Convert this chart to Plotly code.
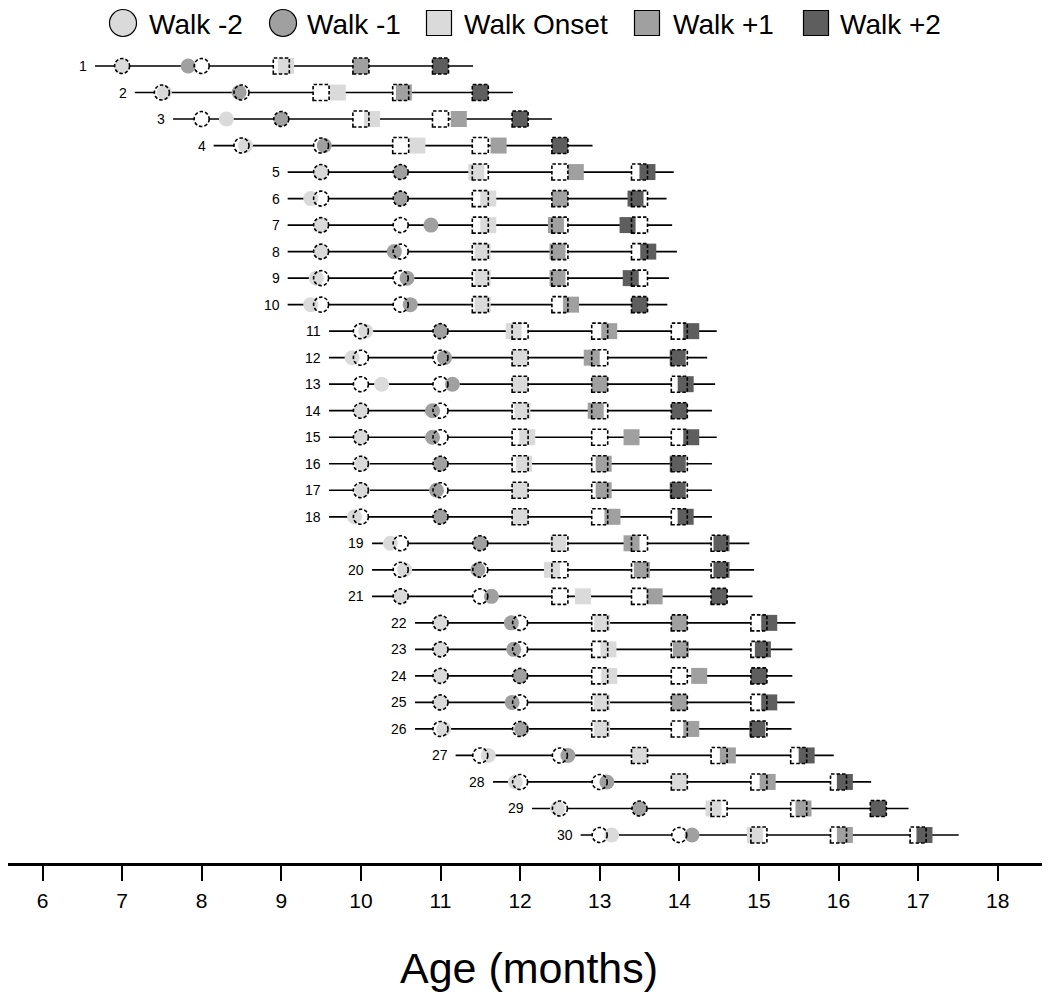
import plotly.graph_objects as go

# ---------------- data ----------------
infants = list(range(1, 31))

# target (scheduled) walk-onset age for each infant, months
target_onset = [9.0, 9.5, 10.0, 10.5,
                11.5, 11.5, 11.5, 11.5, 11.5, 11.5,
                12.0, 12.0, 12.0, 12.0, 12.0, 12.0, 12.0, 12.0,
                12.5, 12.5, 12.5,
                13.0, 13.0, 13.0, 13.0, 13.0,
                13.5, 14.0, 14.5, 15.0]

# actual session ages (months)
walk_m2 = [7.00, 7.53, 8.31, 8.55, 9.49, 9.37, 9.50, 9.50, 9.44, 9.37,
           10.06, 9.89, 10.26, 10.00, 10.00, 10.02, 10.02, 9.92,
           10.37, 10.55, 10.50, 11.00, 11.00, 11.00, 11.00, 11.04,
           11.60, 11.94, 12.47, 13.15]
walk_m1 = [7.83, 8.47, 9.00, 9.54, 10.50, 10.50, 10.88, 10.42, 10.58, 10.62,
           11.00, 11.05, 11.15, 10.90, 10.90, 11.00, 10.95, 11.00,
           11.50, 11.47, 11.64, 11.89, 11.92, 12.00, 11.90, 12.02,
           12.60, 13.09, 13.50, 14.16]
walk_0 = [9.06, 9.71, 10.14, 10.71, 11.45, 11.60, 11.60, 11.53, 11.53, 11.53,
          11.92, 12.00, 12.00, 12.03, 12.09, 12.05, 12.00, 12.00,
          12.48, 12.40, 12.79, 13.03, 13.11, 13.12, 13.03, 13.03,
          13.50, 14.00, 14.43, 14.95]
walk_p1 = [10.00, 10.54, 11.23, 11.73, 12.70, 12.50, 12.45, 12.47, 12.47, 12.64,
           13.12, 12.90, 13.00, 12.95, 13.40, 13.05, 13.05, 13.16,
           13.40, 13.53, 13.69, 14.00, 14.02, 14.25, 14.00, 14.15,
           14.61, 15.11, 15.56, 16.08]
walk_p2 = [11.00, 11.50, 12.00, 12.50, 13.60, 13.45, 13.35, 13.61, 13.39, 13.50,
           14.15, 13.98, 14.08, 14.00, 14.15, 13.98, 13.98, 14.08,
           14.53, 14.53, 14.50, 15.13, 15.05, 15.00, 15.13, 14.98,
           15.60, 16.08, 16.50, 17.08]

# extent of each infant's timeline (months)
line_start = [6.66, 7.16, 7.64, 8.15, 9.08, 9.08, 9.08, 9.08, 9.08, 9.08,
              9.60, 9.60, 9.60, 9.60, 9.60, 9.60, 9.60, 9.60,
              10.14, 10.14, 10.14, 10.68, 10.68, 10.68, 10.68, 10.68,
              11.19, 11.66, 12.15, 12.76]
line_end = [11.41, 11.91, 12.40, 12.91, 13.93, 13.84, 13.91, 13.97, 13.87, 13.85,
            14.47, 14.35, 14.45, 14.41, 14.47, 14.41, 14.41, 14.41,
            14.88, 14.94, 14.92, 15.46, 15.42, 15.42, 15.45, 15.41,
            15.94, 16.41, 16.88, 17.51]

session_names = ["Walk -2", "Walk -1", "Walk Onset", "Walk +1", "Walk +2"]
session_offsets = [-2, -1, 0, 1, 2]
session_colors = ["#dadada", "#a0a0a0", "#dadada", "#a0a0a0", "#5e5e5e"]
session_symbols = ["circle", "circle", "square", "square", "square"]
actual_ages = [walk_m2, walk_m1, walk_0, walk_p1, walk_p2]

x_ticks = list(range(6, 19))

# ---------------- figure ----------------
# the page adds an 8px body margin, so the figure is laid out in page
# pixels minus 8
FONT = "Liberation Sans, Arial, Helvetica, sans-serif"
OFF = 8
W, H = 1050 - OFF, 999 - OFF
AXIS_Y = 863 - OFF
M_T = 40 - OFF
M_B = H - AXIS_Y
PLOT_H = AXIS_Y - M_T

fig = go.Figure()

# timelines
lx, ly = [], []
for i, r in enumerate(infants):
    lx += [line_start[i], line_end[i], None]
    ly += [r, r, None]
fig.add_trace(go.Scatter(x=lx, y=ly, mode="lines",
                         line=dict(color="black", width=1.7),
                         hoverinfo="skip", showlegend=False))

SIZE = {"circle": 15, "square": 16}

# white backing behind the scheduled-session outlines
for k in range(5):
    tx = [t + session_offsets[k] for t in target_onset]
    fig.add_trace(go.Scatter(x=tx, y=infants, mode="markers",
                             marker=dict(symbol=session_symbols[k],
                                         size=SIZE[session_symbols[k]],
                                         color="white", line=dict(width=0)),
                             hoverinfo="skip", showlegend=False))

# actual sessions
for k in range(5):
    fig.add_trace(go.Scatter(x=actual_ages[k], y=infants, mode="markers",
                             name=session_names[k],
                             marker=dict(symbol=session_symbols[k],
                                         size=SIZE[session_symbols[k]],
                                         color=session_colors[k],
                                         line=dict(width=0)),
                             showlegend=False))

# dashed outlines at scheduled session ages
for k in range(5):
    sym = session_symbols[k]
    half = SIZE[sym] / 2
    for i, r in enumerate(infants):
        tx = target_onset[i] + session_offsets[k]
        fig.add_shape(type="circle" if sym == "circle" else "rect",
                      xref="x", yref="y",
                      xsizemode="pixel", ysizemode="pixel",
                      xanchor=tx, yanchor=r,
                      x0=-half, x1=half, y0=-half, y1=half,
                      line=dict(color="black", width=1.6, dash="3.5px,2px"),
                      fillcolor="rgba(0,0,0,0)", layer="above")

# row labels
for i, r in enumerate(infants):
    fig.add_annotation(x=line_start[i], y=r, text=str(r), showarrow=False,
                       xanchor="right", yanchor="middle", xshift=-6,
                       font=dict(family=FONT, size=14, color="black"))

# manual legend (large glyphs), page pixel positions
leg_cx = [123, 283, 439, 647, 816]
leg_tx = [147, 305, 462, 671, 838]
leg_cy = 23


def px_x(p):
    return (p - OFF) / W


def px_y(p):
    return (AXIS_Y - (p - OFF)) / PLOT_H


for k in range(5):
    s = 13.5 if session_symbols[k] == "circle" else 12.5
    fig.add_shape(type="circle" if session_symbols[k] == "circle" else "rect",
                  xref="paper", yref="paper",
                  x0=px_x(leg_cx[k] - s), x1=px_x(leg_cx[k] + s),
                  y0=px_y(leg_cy + s), y1=px_y(leg_cy - s),
                  fillcolor=session_colors[k],
                  line=dict(color="black", width=1.2), layer="above")
    fig.add_annotation(xref="paper", yref="paper",
                       x=px_x(leg_tx[k]), y=px_y(leg_cy + 1),
                       text=session_names[k], showarrow=False,
                       xanchor="left", yanchor="middle",
                       font=dict(family=FONT, size=28, color="black"))

# axis title
fig.add_annotation(xref="paper", yref="paper", x=0.5, y=px_y(968),
                   text="Age (months)", showarrow=False,
                   xanchor="center", yanchor="middle",
                   font=dict(family=FONT, size=43, color="black"))

x0_px, px_per_month = 42.5 - OFF, 79.6
fig.update_layout(
    width=W, height=H,
    margin=dict(l=0, r=0, t=M_T, b=M_B),
    paper_bgcolor="white", plot_bgcolor="white",
    showlegend=False,
    xaxis=dict(range=[6 - x0_px / px_per_month, 6 + (W - x0_px) / px_per_month],
               tickvals=x_ticks, ticktext=[str(t) for t in x_ticks],
               showline=True, linecolor="black", linewidth=2.5,
               ticks="outside", ticklen=15, tickwidth=1.5, tickcolor="black",
               ticklabelstandoff=2,
               showgrid=False, zeroline=False,
               tickfont=dict(family=FONT, size=21, color="black")),
    yaxis=dict(range=[31.056, 0.02], visible=False, showgrid=False,
               zeroline=False),
)

fig.write_html("out.html")
